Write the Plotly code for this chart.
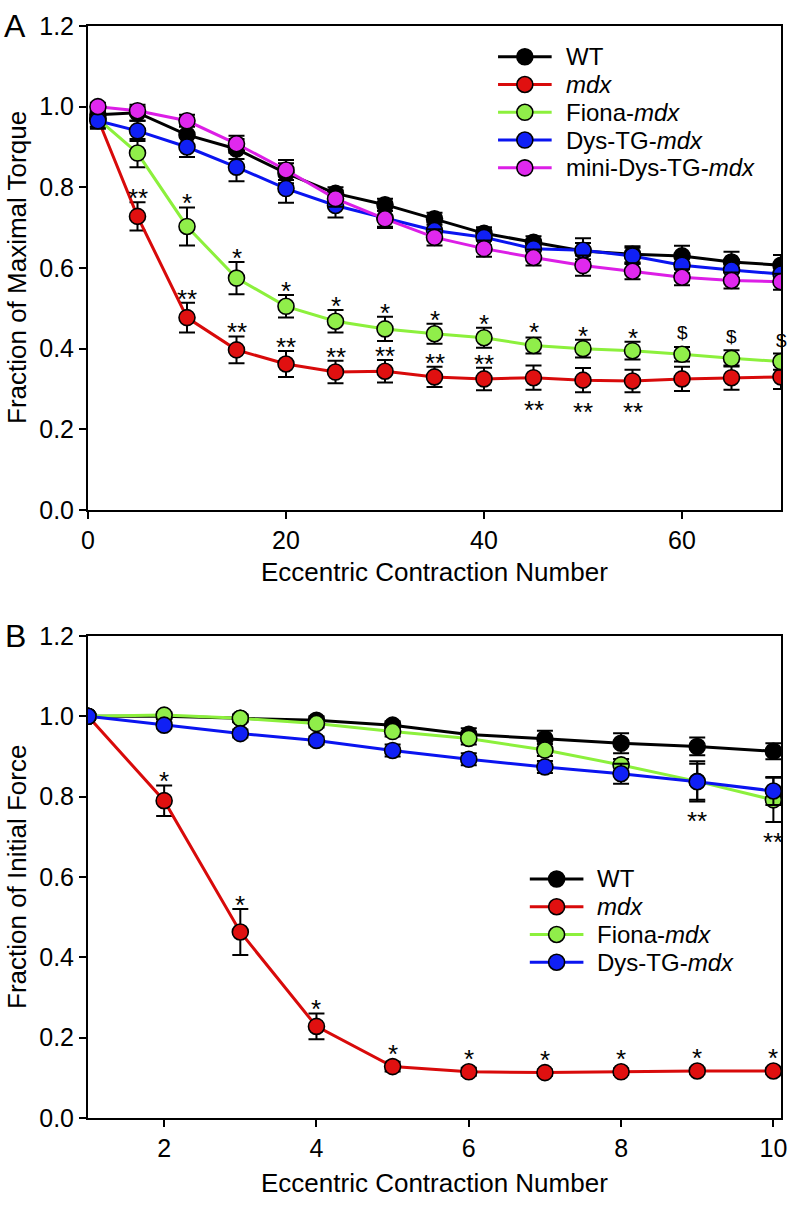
import plotly.graph_objects as go

# ---------------- Panel A data ----------------
a_x = [1, 5, 10, 15, 20, 25, 30, 35, 40, 45, 50, 55, 60, 65, 70]
a_wt = [0.98, 0.985, 0.93, 0.895, 0.835, 0.785, 0.757, 0.722, 0.686, 0.664, 0.642, 0.634, 0.63, 0.615, 0.607]
a_wt_err = [0.02, 0.02, 0.025, 0.025, 0.025, 0.015, 0.015, 0.015, 0.015, 0.015, 0.02, 0.02, 0.025, 0.025, 0.025]
a_mdx = [0.97, 0.728, 0.477, 0.397, 0.362, 0.342, 0.344, 0.33, 0.325, 0.328, 0.322, 0.32, 0.325, 0.328, 0.33]
a_mdx_err = [0.02, 0.035, 0.037, 0.033, 0.032, 0.028, 0.028, 0.025, 0.028, 0.03, 0.03, 0.028, 0.03, 0.03, 0.03]
a_fiona = [0.97, 0.885, 0.703, 0.575, 0.505, 0.468, 0.449, 0.437, 0.427, 0.408, 0.4, 0.395, 0.386, 0.376, 0.368]
a_fiona_err = [0.02, 0.035, 0.047, 0.04, 0.028, 0.028, 0.03, 0.025, 0.025, 0.02, 0.022, 0.022, 0.018, 0.02, 0.02]
a_dys = [0.965, 0.94, 0.9, 0.85, 0.797, 0.755, 0.724, 0.693, 0.676, 0.648, 0.644, 0.63, 0.607, 0.595, 0.585]
a_dys_err = [0.02, 0.025, 0.025, 0.035, 0.035, 0.03, 0.025, 0.02, 0.02, 0.02, 0.03, 0.02, 0.02, 0.02, 0.02]
a_mini = [1.0, 0.99, 0.965, 0.908, 0.843, 0.772, 0.722, 0.676, 0.648, 0.626, 0.606, 0.592, 0.577, 0.569, 0.566]
a_mini_err = [0.01, 0.01, 0.015, 0.02, 0.025, 0.02, 0.02, 0.02, 0.02, 0.02, 0.025, 0.02, 0.02, 0.02, 0.02]

a_mdx_above = [5, 10, 15, 20, 25, 30, 35, 40]
a_mdx_below = [45, 50, 55]
a_fiona_star = [10, 15, 20, 25, 30, 35, 40, 45, 50, 55]
a_fiona_dollar = [60, 65, 70]

# ---------------- Panel B data ----------------
b_x = [1, 2, 3, 4, 5, 6, 7, 8, 9, 10]
b_wt = [1.0, 1.0, 0.995, 0.99, 0.978, 0.955, 0.944, 0.933, 0.925, 0.913]
b_wt_err = [0.0, 0.005, 0.008, 0.01, 0.01, 0.015, 0.02, 0.025, 0.022, 0.02]
b_mdx = [1.0, 0.79, 0.463, 0.228, 0.128, 0.115, 0.113, 0.115, 0.117, 0.117]
b_mdx_err = [0.0, 0.038, 0.057, 0.032, 0.012, 0.01, 0.008, 0.008, 0.008, 0.008]
b_fiona = [1.0, 1.003, 0.995, 0.982, 0.962, 0.945, 0.916, 0.879, 0.838, 0.792]
b_fiona_err = [0.0, 0.008, 0.01, 0.01, 0.012, 0.015, 0.015, 0.015, 0.05, 0.055]
b_dys = [1.0, 0.978, 0.957, 0.94, 0.915, 0.893, 0.874, 0.857, 0.837, 0.814]
b_dys_err = [0.0, 0.008, 0.01, 0.01, 0.015, 0.015, 0.015, 0.025, 0.045, 0.035]

b_mdx_star = [2, 3, 4, 5, 6, 7, 8, 9, 10]
b_fiona_below = [9, 10]

names = ["WT", "<i>mdx</i>", "Fiona-<i>mdx</i>", "Dys-TG-<i>mdx</i>", "mini-Dys-TG-<i>mdx</i>"]
line_colors = ["#000000", "#d80a0a", "#8cf03c", "#0a14f0", "#dc1ee6"]
fill_colors = ["#000000", "#e01010", "#90ee4a", "#1020f5", "#e028ee"]

FONT = "Liberation Sans, Arial, sans-serif"

# page geometry
PL, PR, PT, PB = 88, 786, 17, 1118   # plot area in page pixels
FIG_W, FIG_H = 799, 1205
A_TOP, A_BOT = 17, 505
B_TOP, B_BOT = 632, 1118
PPU_A = (A_BOT - A_TOP) / 1.2   # pixels per y unit
PPU_B = (B_BOT - B_TOP) / 1.2
MARKER_R = 8


def px(xp):
    return (xp - PL) / (PR - PL)


def py(yp):
    return (PB - yp) / (PB - PT)


fig = go.Figure()


def add_series(x, y, err, idx, xa, ya):
    fig.add_trace(go.Scatter(
        x=x, y=y, mode="lines+markers", name=names[idx],
        xaxis=xa, yaxis=ya, showlegend=False,
        line=dict(color=line_colors[idx], width=3),
        marker=dict(size=16, color=fill_colors[idx], line=dict(color="black", width=1.6)),
        error_y=dict(type="data", array=err, visible=True, color="black", thickness=2, width=8),
    ))


a_series = [(a_wt, a_wt_err), (a_mdx, a_mdx_err), (a_fiona, a_fiona_err), (a_dys, a_dys_err), (a_mini, a_mini_err)]
for i, (y, e) in enumerate(a_series):
    add_series(a_x, y, e, i, "x", "y")

b_series = [(b_wt, b_wt_err), (b_mdx, b_mdx_err), (b_fiona, b_fiona_err), (b_dys, b_dys_err)]
for i, (y, e) in enumerate(b_series):
    add_series(b_x, y, e, i, "x2", "y2")

annotations = []
shapes = []

STAR = 26


def mark(xv, yv, err_px, text, xref, yref, above, min_reach=MARKER_R + 1):
    # star sits ~10px beyond whichever is further out: the error cap or the marker edge
    reach = max(err_px, min_reach)
    annotations.append(dict(
        x=xv, y=yv, xref=xref, yref=yref, text=text, showarrow=False,
        font=dict(family=FONT, size=STAR, color="black"),
        xanchor="center", yanchor="middle",
        yshift=(reach + 4 if above else -(reach + 20)),
    ))


for xv in a_mdx_above:
    i = a_x.index(xv)
    mark(xv, a_mdx[i], a_mdx_err[i] * PPU_A, "**", "x", "y", True)
for xv in a_mdx_below:
    i = a_x.index(xv)
    mark(xv, a_mdx[i], a_mdx_err[i] * PPU_A, "**", "x", "y", False)
for xv in a_fiona_star:
    i = a_x.index(xv)
    mark(xv, a_fiona[i], a_fiona_err[i] * PPU_A, "*", "x", "y", True)
for xv in a_fiona_dollar:
    i = a_x.index(xv)
    annotations.append(dict(
        x=xv, y=a_fiona[i], xref="x", yref="y", text="$", showarrow=False,
        font=dict(family=FONT, size=19, color="black"), xanchor="center", yanchor="bottom",
        yshift=max(a_fiona_err[i] * PPU_A, MARKER_R + 1)))
for xv in b_mdx_star:
    i = b_x.index(xv)
    mark(xv, b_mdx[i], b_mdx_err[i] * PPU_B, "*", "x2", "y2", True)
for xv in b_fiona_below:
    i = b_x.index(xv)
    low = min(b_fiona[i] - b_fiona_err[i], b_dys[i] - b_dys_err[i])
    mark(xv, low, 0, "**", "x2", "y2", False, min_reach=0)

# panel letters
for lab, yref in (("A", "y domain"), ("B", "y2 domain")):
    annotations.append(dict(x=0, y=1, xref="paper", yref=yref, text=lab, showarrow=False,
                            font=dict(family=FONT, size=32, color="black"), xanchor="center",
                            yanchor="middle", xshift=-73, yshift=0))
# axis titles
TITLE = 26
annotations.append(dict(x=0, y=0.5, xref="paper", yref="y domain", text="Fraction of Maximal Torque",
                        showarrow=False, textangle=-90, font=dict(family=FONT, size=TITLE, color="black"),
                        xanchor="center", yanchor="middle", xshift=-71))
annotations.append(dict(x=0, y=0.5, xref="paper", yref="y2 domain", text="Fraction of Initial Force",
                        showarrow=False, textangle=-90, font=dict(family=FONT, size=TITLE, color="black"),
                        xanchor="center", yanchor="middle", xshift=-71))
annotations.append(dict(x=0.5, y=0, xref="x domain", yref="y domain", text="Eccentric Contraction Number",
                        showarrow=False, font=dict(family=FONT, size=TITLE, color="black"),
                        xanchor="center", yanchor="middle", yshift=-62))
annotations.append(dict(x=0.5, y=0, xref="x2 domain", yref="y2 domain", text="Eccentric Contraction Number",
                        showarrow=False, font=dict(family=FONT, size=TITLE, color="black"),
                        xanchor="center", yanchor="middle", yshift=-65))


# hand-built legends (line sample + marker + label)
def legend(x_line0, y_first, n, gap=28):
    for k in range(n):
        yc = y_first + k * gap
        shapes.append(dict(type="line", xref="paper", yref="paper",
                           x0=px(x_line0), x1=px(x_line0 + 54), y0=py(yc), y1=py(yc),
                           line=dict(color=line_colors[k], width=3), layer="above"))
        shapes.append(dict(type="circle", xref="paper", yref="paper", xsizemode="pixel", ysizemode="pixel",
                           xanchor=px(x_line0 + 27), yanchor=py(yc), x0=-8, x1=8, y0=-8, y1=8,
                           fillcolor=fill_colors[k], line=dict(color="black", width=1.6), layer="above"))
        annotations.append(dict(x=px(x_line0 + 66), y=py(yc), xref="paper", yref="paper", text=names[k],
                                showarrow=False, xanchor="left", yanchor="middle",
                                font=dict(family=FONT, size=24, color="black")))


legend(501, 48, 5)
legend(533, 877, 4)

axis_common = dict(showline=True, linecolor="black", linewidth=2, mirror=True, ticks="outside",
                   ticklen=7, tickwidth=2, tickcolor="black", showgrid=False, zeroline=False,
                   tickfont=dict(family=FONT, size=25, color="black"))

fig.update_layout(
    width=FIG_W, height=FIG_H,
    paper_bgcolor="white", plot_bgcolor="white",
    margin=dict(l=PL, r=FIG_W - PR, t=PT, b=FIG_H - PB),
    font=dict(family=FONT, color="black"),
    xaxis=dict(domain=[0, 1], anchor="y", range=[0, 70], tickvals=[0, 20, 40, 60], **axis_common),
    yaxis=dict(domain=[py(A_BOT), 1], anchor="x", range=[0, 1.2], tickvals=[0, 0.2, 0.4, 0.6, 0.8, 1.0, 1.2],
               tickformat=".1f", **axis_common),
    xaxis2=dict(domain=[0, 1], anchor="y2", range=[1, 10.1], tickvals=[2, 4, 6, 8, 10], **axis_common),
    yaxis2=dict(domain=[0, py(B_TOP)], anchor="x2", range=[0, 1.2], tickvals=[0, 0.2, 0.4, 0.6, 0.8, 1.0, 1.2],
                tickformat=".1f", **axis_common),
    annotations=annotations,
    shapes=shapes,
    showlegend=False,
)

# remove the browser's default 8px body margin so the figure fills the window exactly
fig.write_html("out.html",
               config={"displayModeBar": False},
               post_script="document.body.style.margin='0';document.body.style.overflow='hidden';")
